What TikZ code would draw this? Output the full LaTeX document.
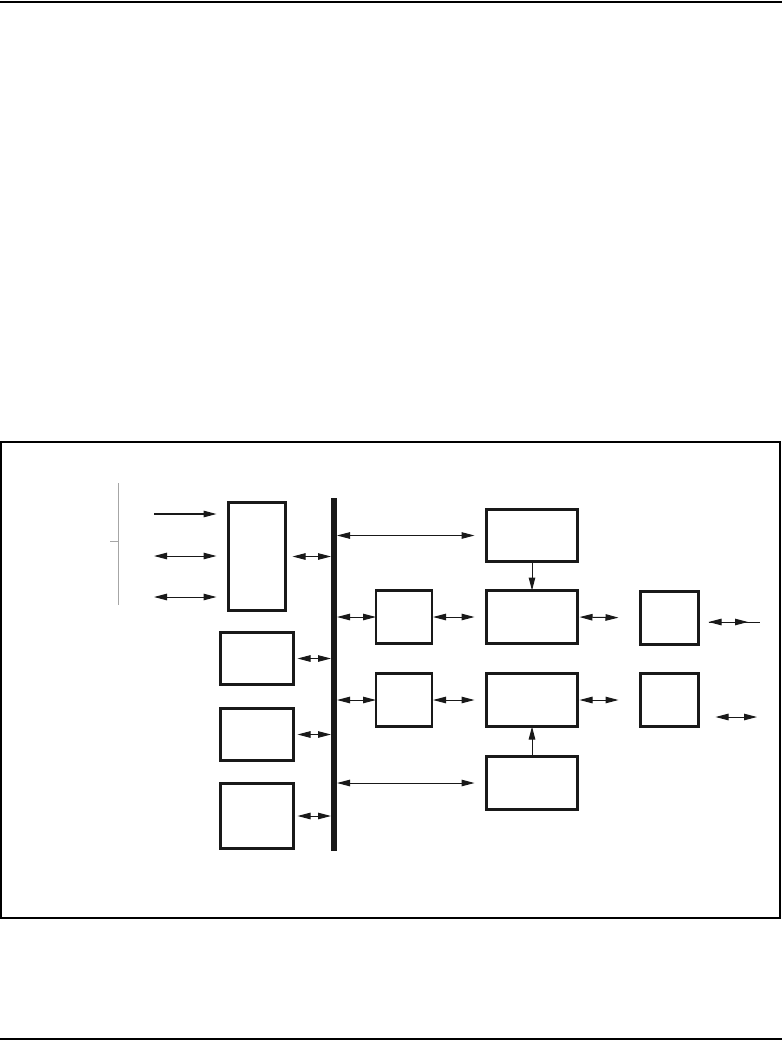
\documentclass[tikz,border=0pt]{standalone}
\usepackage{tikz}
\usetikzlibrary{arrows.meta}

\begin{document}
\begin{tikzpicture}[
    x=1pt,y=-1pt,
    box/.style={rectangle,draw=black!90,line width=2.6pt,inner sep=0pt,outer sep=0pt},
    busbar/.style={rectangle,fill=black!90,inner sep=0pt,outer sep=0pt,minimum width=6pt,minimum height=353pt},
    arrow/.style={-{Triangle[length=13pt,width=6.5pt]},line width=1.2pt,black!90},
    dblarrow/.style={{Triangle[length=13pt,width=6.5pt]}-{Triangle[length=13pt,width=6.5pt]},line width=1pt,black!90},
    rule/.style={line width=2.4pt,black},
    bracket/.style={line width=1pt,black!35}
]
\useasboundingbox (0,0) rectangle (782,1042);
\draw[rule] (0,2) -- (782,2);
\draw[rule] (0,1039) -- (782,1039);
\draw[line width=2pt] (1,442) rectangle (780,918);

% boxes
\node[busbar] (bus) at (334,674.5) {};
\node[box,minimum width=57pt,minimum height=108pt] (io) at (257,556.5) {};
\node[box,minimum width=73pt,minimum height=52pt] (m1) at (257,658.5) {};
\node[box,minimum width=73pt,minimum height=52pt] (m2) at (257,734.5) {};
\node[box,minimum width=73pt,minimum height=65pt] (m3) at (257,816) {};
\node[box,minimum width=56pt,minimum height=53pt] (s1) at (404,617) {};
\node[box,minimum width=56pt,minimum height=53pt] (s2) at (404,700) {};
\node[box,minimum width=91pt,minimum height=52pt] (a) at (532,535.5) {};
\node[box,minimum width=91pt,minimum height=53pt] (b) at (532,617) {};
\node[box,minimum width=91pt,minimum height=53pt] (c) at (532,700) {};
\node[box,minimum width=91pt,minimum height=53pt] (d) at (532,783) {};
\node[box,minimum width=58pt,minimum height=53pt] (r1) at (669.5,618) {};
\node[box,minimum width=58pt,minimum height=53pt] (r2) at (669.5,700) {};

% free ends
\coordinate (in1) at (154,514);
\coordinate (in2) at (154,556);
\coordinate (in3) at (154,597);
\coordinate (r1out) at (760,622);
\coordinate (r2out) at (757,717);

% input side
\draw[bracket] (118,483) -- (118,605);
\draw[bracket] (110,541) -- (118,541);
\draw[arrow,shorten >=12pt] (in1) -- (in1 -| io.west);
\draw[dblarrow,shorten >=12pt] (in2) -- (in2 -| io.west);
\draw[dblarrow,shorten >=12pt] (in3) -- (in3 -| io.west);

% bus taps
\draw[dblarrow,shorten <=7pt] (io.east) -- (io.east -| bus.west);
\draw[dblarrow,shorten <=4pt] (m1.east) -- (m1.east -| bus.west);
\draw[dblarrow,shorten <=4pt] (m2.east) -- (m2.east -| bus.west);
\draw[dblarrow,shorten <=4pt] (m3.east) -- (m3.east -| bus.west);
\draw[dblarrow,shorten >=12pt] (bus.east |- a.west) -- (a.west);
\draw[dblarrow] (bus.east |- s1.west) -- (s1.west);
\draw[dblarrow] (bus.east |- s2.west) -- (s2.west);
\draw[dblarrow,shorten >=12pt] (bus.east |- d.west) -- (d.west);

% right side
\draw[dblarrow,shorten <=1pt,shorten >=12pt] (s1.east) -- (b.west);
\draw[dblarrow,shorten <=1pt,shorten >=12pt] (s2.east) -- (c.west);
\draw[dblarrow,shorten <=2pt,shorten >=22pt] (b.east) -- (r1.west);
\draw[dblarrow,shorten <=2pt,shorten >=22pt] (c.east) -- (r2.west);
\draw[arrow,line width=1pt] (a.south) -- (b.north);
\draw[arrow,line width=1pt] (d.north) -- (c.south);
\draw[line width=1pt,black!90,shorten <=10pt] (r1.east |- r1out) -- (r1out);
\draw[dblarrow,shorten <=10pt,shorten >=12pt] (r1.east |- r1out) -- (r1out);
\draw[dblarrow,shorten <=17pt] (r2.east |- r2out) -- (r2out);
\end{tikzpicture}
\end{document}
